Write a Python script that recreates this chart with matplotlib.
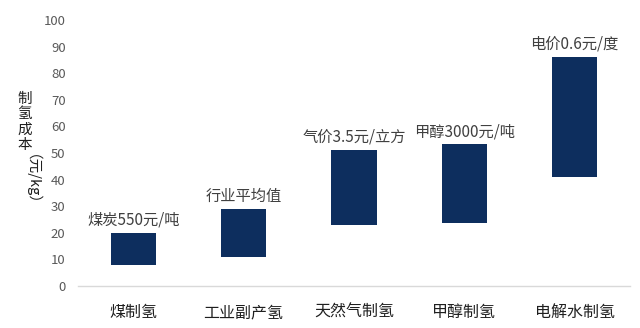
import matplotlib
matplotlib.use("Agg")
import matplotlib.pyplot as plt

plt.rcParams['font.family'] = ['Noto Sans CJK SC', 'DejaVu Sans']

categories = ["煤制氢", "工业副产氢", "天然气制氢", "甲醇制氢", "电解水制氢"]
cost_low = [7.8, 10.8, 22.8, 23.8, 40.9]
cost_high = [20.0, 29.1, 51.1, 53.3, 86.2]
notes = ["煤炭550元/吨", "行业平均值", "气价3.5元/立方", "甲醇3000元/吨", "电价0.6元/度"]

bar_color = "#0d2e5e"

fig = plt.figure(figsize=(6.4, 3.28), dpi=100)
ax = fig.add_axes([0.122, 0.128, 0.862, 0.811])

x = range(len(categories))
heights = [h - l for l, h in zip(cost_low, cost_high)]
ax.bar(x, heights, bottom=cost_low, width=0.41, color=bar_color)

for i, (top, note) in enumerate(zip(cost_high, notes)):
    ax.annotate(note, xy=(i, top), xytext=(0, 3), textcoords="offset points",
                ha="center", va="bottom", fontsize=11, color="#404040")

ax.set_xlim(-0.5, len(categories) - 0.5)
ax.set_ylim(0, 100)
ax.set_yticks(range(0, 101, 10))
ax.set_xticks(list(x))
ax.set_xticklabels(categories, fontsize=11.5, color="#1f1f1f")
ax.tick_params(axis="x", length=0, pad=13)
ax.tick_params(axis="y", length=0, pad=9, labelsize=9.5, labelcolor="#595959")

for side in ["top", "right", "left"]:
    ax.spines[side].set_visible(False)
ax.spines["bottom"].set_color("#d9d9d9")
ax.spines["bottom"].set_linewidth(1)

# vertical y label: upright characters, then the unit turned sideways
fig.text(0.038, 1 - 92 / 328, "制\n氢\n成\n本", ha="center", va="top",
         fontsize=10.5, color="#1f1f1f", linespacing=1.12)
fig.text(0.038, 1 - 154 / 328, "（元/kg）", ha="center", va="top",
         rotation=-90, fontsize=10.5, color="#1f1f1f")

fig.savefig("out.png", dpi=100)
